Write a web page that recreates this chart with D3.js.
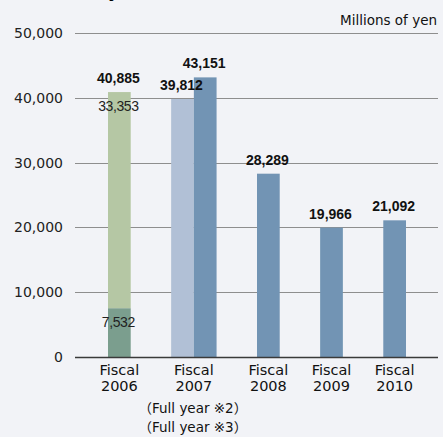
<!DOCTYPE html>
<html>
<head>
<meta charset="utf-8">
<script src="https://cdn.jsdelivr.net/npm/d3@7"></script>
<style>
  html, body { margin: 0; padding: 0; background: #f2f3f7; }
  svg { display: block; }
</style>
</head>
<body>
<svg id="chart" width="443" height="437"></svg>
<script>
// Fiscal years shown on the x axis
const categories = ["2006", "2007", "2008", "2009", "2010"];
// Fiscal 2006 is a stacked bar: lower and upper segments
const fy2006Lower = 7532;
const fy2006Upper = 33353;
const fy2006Total = 40885;
// Fiscal 2007 has two bars side by side
const fy2007Values = [39812, 43151];
// Fiscal 2008 – 2010 single bars
const laterValues = [28289, 19966, 21092];
// Value axis ticks
const yTicks = [0, 10000, 20000, 30000, 40000, 50000];
const footnotes = ["（Full year ※2）", "（Full year ※3）"];
const unitLabel = "Millions of yen";

const colors = {
  greenLight: "#b5c7a4",
  greenDark: "#7b9e8e",
  blueLight: "#b1c0d6",
  blueDark: "#7294b4",
  grid: "#8e8e8e",
  axis: "#3a3a3a",
  text: "#111"
};

const svg = d3.select("#chart");

// Vertical scale
const y = d3.scaleLinear().domain([0, 50000]).range([357, 33]);

// Horizontal layout in "bar units": each bar is 1 unit, each gap between groups is gapUnits
const gapUnits = 1.78;
const barsPerGroup = [1, 2, 1, 1, 1];
const groupStart = [];
let acc = 0;
barsPerGroup.forEach((n, i) => {
  groupStart.push(acc);
  acc += n + (i < barsPerGroup.length - 1 ? gapUnits : 0);
});
const x = d3.scaleLinear().domain([0, acc]).range([108, 406]);
const unitW = x(1) - x(0);

// Gridlines and tick labels
const grid = svg.append("g");
grid.selectAll("line")
  .data(yTicks.filter(d => d > 0))
  .join("line")
  .attr("x1", 75).attr("x2", 438)
  .attr("y1", d => Math.round(y(d)) + 0.5)
  .attr("y2", d => Math.round(y(d)) + 0.5)
  .attr("stroke", colors.grid).attr("stroke-width", 1);

const yAxis = d3.axisLeft(y).tickValues(yTicks).tickSize(0).tickPadding(12)
  .tickFormat(d3.format(","));
const yG = svg.append("g").attr("transform", "translate(75,0)").call(yAxis);
yG.select(".domain").remove();
yG.selectAll("text")
  .attr("font-family", "DejaVu Sans")
  .attr("font-size", 14)
  .attr("fill", "#222");

// Bars
const bars = [];
bars.push({ cat: "2006", x0: groupStart[0], v0: 0, v1: fy2006Lower, fill: colors.greenDark });
bars.push({ cat: "2006", x0: groupStart[0], v0: fy2006Lower, v1: fy2006Lower + fy2006Upper, fill: colors.greenLight });
bars.push({ cat: "2007", x0: groupStart[1], v0: 0, v1: fy2007Values[0], fill: colors.blueLight });
bars.push({ cat: "2007", x0: groupStart[1] + 1, v0: 0, v1: fy2007Values[1], fill: colors.blueDark });
laterValues.forEach((v, i) => {
  bars.push({ cat: categories[i + 2], x0: groupStart[i + 2], v0: 0, v1: v, fill: colors.blueDark });
});

svg.append("g").selectAll("rect")
  .data(bars)
  .join("rect")
  .attr("x", d => x(d.x0))
  .attr("width", unitW)
  .attr("y", d => y(d.v1))
  .attr("height", d => y(d.v0) - y(d.v1))
  .attr("fill", d => d.fill);

// Baseline
svg.append("line")
  .attr("x1", 75).attr("x2", 438)
  .attr("y1", Math.round(y(0)) + 0.5).attr("y2", Math.round(y(0)) + 0.5)
  .attr("stroke", colors.axis).attr("stroke-width", 1.4);

// Bold totals above bars
const fmt = d3.format(",");
const totals = [
  { x0: groupStart[0], v: fy2006Total },
  { x0: groupStart[1], v: fy2007Values[0] },
  { x0: groupStart[1] + 1, v: fy2007Values[1] },
  ...laterValues.map((v, i) => ({ x0: groupStart[i + 2], v }))
];
svg.append("g").selectAll("text")
  .data(totals)
  .join("text")
  .attr("x", d => x(d.x0) + unitW / 2 - 1)
  .attr("y", d => y(d.v) - 9)
  .attr("text-anchor", "middle")
  .attr("font-family", "Liberation Sans, Arial, sans-serif")
  .attr("font-weight", "bold")
  .attr("font-size", 14)
  .attr("fill", colors.text)
  .text(d => fmt(d.v));

// Segment labels inside the Fiscal 2006 bar
const segLabels = [
  { v: fy2006Upper, top: fy2006Lower + fy2006Upper },
  { v: fy2006Lower, top: fy2006Lower }
];
svg.append("g").selectAll("text")
  .data(segLabels)
  .join("text")
  .attr("x", x(groupStart[0]) + unitW / 2 - 1)
  .attr("y", d => y(d.top) + 19)
  .attr("text-anchor", "middle")
  .attr("font-family", "Liberation Sans, Arial, sans-serif")
  .attr("font-size", 14)
  .attr("letter-spacing", -0.4)
  .attr("fill", "#222")
  .text(d => fmt(d.v));

// Category labels, two lines each
const catG = svg.append("g").selectAll("g")
  .data(categories)
  .join("g")
  .attr("transform", (d, i) => `translate(${x(groupStart[i] + barsPerGroup[i] / 2)},0)`);
catG.append("text")
  .attr("y", 375)
  .attr("text-anchor", "middle")
  .attr("font-family", "DejaVu Sans")
  .attr("font-size", 14.5)
  .attr("fill", colors.text)
  .text("Fiscal");
catG.append("text")
  .attr("y", 391)
  .attr("text-anchor", "middle")
  .attr("font-family", "DejaVu Sans")
  .attr("font-size", 14.5)
  .attr("fill", colors.text)
  .text(d => d);

// Footnotes under Fiscal 2007
svg.append("g").selectAll("text")
  .data(footnotes)
  .join("text")
  .attr("x", x(groupStart[1] + 1) - 1)
  .attr("y", (d, i) => 413 + i * 19)
  .attr("text-anchor", "middle")
  .attr("font-family", "DejaVu Sans, Noto Sans CJK JP")
  .attr("font-size", 13.5)
  .attr("fill", colors.text)
  .text(d => d);

// Unit label
svg.append("text")
  .attr("x", 437).attr("y", 25)
  .attr("text-anchor", "end")
  .attr("font-family", "DejaVu Sans")
  .attr("font-size", 13.5)
  .attr("fill", colors.text)
  .text(unitLabel);

// Title line running above the visible area
svg.append("text")
  .attr("x", 108).attr("y", -2)
  .attr("font-family", "DejaVu Sans")
  .attr("font-weight", "bold")
  .attr("font-size", 16)
  .attr("fill", "#000")
  .text("y");
</script>
</body>
</html>
